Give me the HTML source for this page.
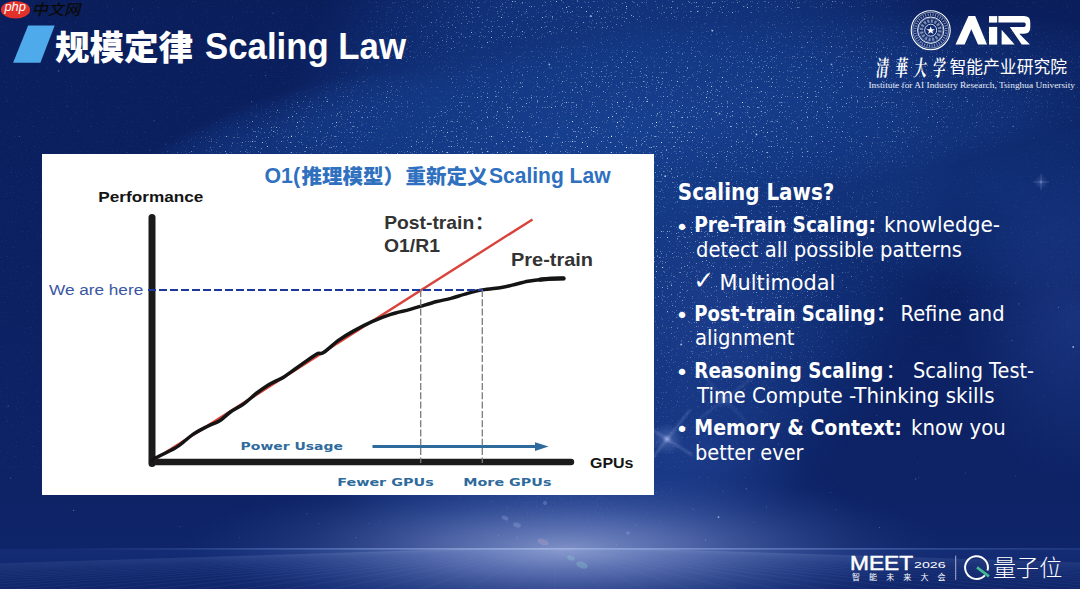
<!DOCTYPE html>
<html><head><meta charset="utf-8">
<style>
*{margin:0;padding:0;box-sizing:border-box}
html,body{width:1080px;height:589px;overflow:hidden;background:#0b1f5d}
body{position:relative}
svg{position:absolute;left:0;top:0;display:block}
.lat{font-family:"Liberation Sans","Noto Sans CJK SC",sans-serif}
.cjk{font-family:"Noto Sans CJK SC","Liberation Sans",sans-serif}
.b{font-weight:bold}
</style></head><body>
<!-- ============ BACKGROUND ============ -->
<svg width="1080" height="589" viewBox="0 0 1080 589">
 <defs>
  <linearGradient id="gBase" x1="0" y1="0" x2="0" y2="1">
   <stop offset="0" stop-color="#0a1e5c"/>
   <stop offset="0.5" stop-color="#0b2162"/>
   <stop offset="0.85" stop-color="#0d2366"/>
   <stop offset="1" stop-color="#10276c"/>
  </linearGradient>
  <radialGradient id="gGlow" cx="0.5" cy="0.5" r="0.5">
   <stop offset="0" stop-color="#97a6d6" stop-opacity="0.8"/>
   <stop offset="0.35" stop-color="#7487c4" stop-opacity="0.55"/>
   <stop offset="0.7" stop-color="#4a64aa" stop-opacity="0.25"/>
   <stop offset="1" stop-color="#2a4898" stop-opacity="0"/>
  </radialGradient>
  <radialGradient id="gFloorC" cx="0.5" cy="0.5" r="0.5">
   <stop offset="0" stop-color="#5e78bb" stop-opacity="0.9"/>
   <stop offset="0.35" stop-color="#36529e" stop-opacity="0.6"/>
   <stop offset="1" stop-color="#1e3a86" stop-opacity="0"/>
  </radialGradient>
  <radialGradient id="gBand" cx="0.5" cy="0.5" r="0.5">
   <stop offset="0" stop-color="#184596" stop-opacity="0.72"/>
   <stop offset="0.55" stop-color="#163f8e" stop-opacity="0.6"/>
   <stop offset="0.8" stop-color="#163f8e" stop-opacity="0.35"/>
   <stop offset="1" stop-color="#163f8e" stop-opacity="0"/>
  </radialGradient>
  <radialGradient id="gSoft" cx="0.5" cy="0.5" r="0.5">
   <stop offset="0" stop-color="#2a4aa0" stop-opacity="0.6"/>
   <stop offset="1" stop-color="#2a4aa0" stop-opacity="0"/>
  </radialGradient>
  <radialGradient id="gFlare" cx="0.5" cy="0.5" r="0.5">
   <stop offset="0" stop-color="#c8d6ff" stop-opacity="0.7"/>
   <stop offset="0.3" stop-color="#8ea6e8" stop-opacity="0.25"/>
   <stop offset="1" stop-color="#8ea6e8" stop-opacity="0"/>
  </radialGradient>
  <linearGradient id="gHor" x1="0" y1="0" x2="1" y2="0">
   <stop offset="0.05" stop-color="#5a7cc8" stop-opacity="0"/>
   <stop offset="0.25" stop-color="#6f8fd6" stop-opacity="0.4"/>
   <stop offset="0.5" stop-color="#a9bde8" stop-opacity="0.75"/>
   <stop offset="0.8" stop-color="#6f8fd6" stop-opacity="0.45"/>
   <stop offset="1" stop-color="#5a7cc8" stop-opacity="0.2"/>
  </linearGradient>
  <linearGradient id="gFloor" x1="0" y1="0" x2="0" y2="1">
   <stop offset="0" stop-color="#142c74"/>
   <stop offset="1" stop-color="#10266b"/>
  </linearGradient>
 </defs>
 <rect width="1080" height="589" fill="url(#gBase)"/>
 <ellipse cx="610" cy="190" rx="420" ry="340" fill="url(#gBand)" transform="rotate(116 610 190)"/>
 <ellipse cx="640" cy="125" rx="520" ry="95" fill="url(#gBand)" opacity="0.85" transform="rotate(-7 640 125)"/>
 <ellipse cx="1000" cy="185" rx="190" ry="110" fill="url(#gBand)" opacity="0.55"/>
 <ellipse cx="290" cy="135" rx="170" ry="45" fill="url(#gBand)" opacity="0.5" transform="rotate(-18 290 135)"/>
 <ellipse cx="720" cy="330" rx="120" ry="150" fill="url(#gSoft)" opacity="0.6"/>
 <ellipse cx="1070" cy="320" rx="110" ry="160" fill="url(#gSoft)" opacity="0.7"/>
 <ellipse cx="700" cy="450" rx="110" ry="70" fill="url(#gSoft)" opacity="0.5"/>
 <ellipse cx="590" cy="530" rx="270" ry="120" fill="url(#gSoft)" opacity="0.9"/>
 <rect x="0" y="549" width="1080" height="40" fill="url(#gFloor)"/>
 <clipPath id="cFloor"><rect x="0" y="549" width="1080" height="40"/></clipPath>
 <ellipse cx="560" cy="549" rx="360" ry="60" fill="url(#gFloorC)" clip-path="url(#cFloor)"/>
 <rect x="0" y="470" width="1080" height="79" fill="none"/>
 <ellipse cx="565" cy="549" rx="380" ry="80" fill="url(#gGlow)"/>
 <g stroke="#8fa6dc" stroke-opacity="0.1" stroke-width="0.8">
<line x1="465.0" y1="549" x2="-795.0" y2="589"/>
<line x1="468.0" y1="549" x2="-750.0" y2="589"/>
<line x1="471.0" y1="549" x2="-705.0" y2="589"/>
<line x1="474.0" y1="549" x2="-660.0" y2="589"/>
<line x1="477.0" y1="549" x2="-615.0" y2="589"/>
<line x1="480.0" y1="549" x2="-570.0" y2="589"/>
<line x1="483.0" y1="549" x2="-525.0" y2="589"/>
<line x1="486.0" y1="549" x2="-480.0" y2="589"/>
<line x1="489.0" y1="549" x2="-435.0" y2="589"/>
<line x1="492.0" y1="549" x2="-390.0" y2="589"/>
<line x1="495.0" y1="549" x2="-345.0" y2="589"/>
<line x1="498.0" y1="549" x2="-300.0" y2="589"/>
<line x1="501.0" y1="549" x2="-255.0" y2="589"/>
<line x1="504.0" y1="549" x2="-210.0" y2="589"/>
<line x1="507.0" y1="549" x2="-165.0" y2="589"/>
<line x1="510.0" y1="549" x2="-120.0" y2="589"/>
<line x1="513.0" y1="549" x2="-75.0" y2="589"/>
<line x1="516.0" y1="549" x2="-30.0" y2="589"/>
<line x1="519.0" y1="549" x2="15.0" y2="589"/>
<line x1="522.0" y1="549" x2="60.0" y2="589"/>
<line x1="525.0" y1="549" x2="105.0" y2="589"/>
<line x1="528.0" y1="549" x2="150.0" y2="589"/>
<line x1="531.0" y1="549" x2="195.0" y2="589"/>
<line x1="534.0" y1="549" x2="240.0" y2="589"/>
<line x1="537.0" y1="549" x2="285.0" y2="589"/>
<line x1="540.0" y1="549" x2="330.0" y2="589"/>
<line x1="543.0" y1="549" x2="375.0" y2="589"/>
<line x1="546.0" y1="549" x2="420.0" y2="589"/>
<line x1="549.0" y1="549" x2="465.0" y2="589"/>
<line x1="552.0" y1="549" x2="510.0" y2="589"/>
<line x1="555.0" y1="549" x2="555.0" y2="589"/>
<line x1="558.0" y1="549" x2="600.0" y2="589"/>
<line x1="561.0" y1="549" x2="645.0" y2="589"/>
<line x1="564.0" y1="549" x2="690.0" y2="589"/>
<line x1="567.0" y1="549" x2="735.0" y2="589"/>
<line x1="570.0" y1="549" x2="780.0" y2="589"/>
<line x1="573.0" y1="549" x2="825.0" y2="589"/>
<line x1="576.0" y1="549" x2="870.0" y2="589"/>
<line x1="579.0" y1="549" x2="915.0" y2="589"/>
<line x1="582.0" y1="549" x2="960.0" y2="589"/>
<line x1="585.0" y1="549" x2="1005.0" y2="589"/>
<line x1="588.0" y1="549" x2="1050.0" y2="589"/>
<line x1="591.0" y1="549" x2="1095.0" y2="589"/>
<line x1="594.0" y1="549" x2="1140.0" y2="589"/>
<line x1="597.0" y1="549" x2="1185.0" y2="589"/>
<line x1="600.0" y1="549" x2="1230.0" y2="589"/>
<line x1="603.0" y1="549" x2="1275.0" y2="589"/>
<line x1="606.0" y1="549" x2="1320.0" y2="589"/>
<line x1="609.0" y1="549" x2="1365.0" y2="589"/>
<line x1="612.0" y1="549" x2="1410.0" y2="589"/>
<line x1="615.0" y1="549" x2="1455.0" y2="589"/>
<line x1="618.0" y1="549" x2="1500.0" y2="589"/>
<line x1="621.0" y1="549" x2="1545.0" y2="589"/>
<line x1="624.0" y1="549" x2="1590.0" y2="589"/>
<line x1="627.0" y1="549" x2="1635.0" y2="589"/>
<line x1="630.0" y1="549" x2="1680.0" y2="589"/>
<line x1="633.0" y1="549" x2="1725.0" y2="589"/>
<line x1="636.0" y1="549" x2="1770.0" y2="589"/>
<line x1="639.0" y1="549" x2="1815.0" y2="589"/>
<line x1="642.0" y1="549" x2="1860.0" y2="589"/>
<line x1="645.0" y1="549" x2="1905.0" y2="589"/>
 </g>
 <rect x="0" y="548" width="1080" height="1.6" fill="url(#gHor)"/>
 <defs>
  <filter id="fStars" x="0" y="0" width="1080" height="589" filterUnits="userSpaceOnUse">
   <feTurbulence type="fractalNoise" baseFrequency="0.8" numOctaves="1" seed="5" result="n"/>
   <feColorMatrix in="n" type="matrix" values="0 0 0 0 0.84  0 0 0 0 0.9  0 0 0 0 1  7 0 0 0 -4.6" result="s"/>
   <feGaussianBlur in="s" stdDeviation="0.4"/>
  </filter>
  <radialGradient id="gMask" cx="0.5" cy="0.5" r="0.5">
   <stop offset="0" stop-color="#fff"/>
   <stop offset="0.6" stop-color="#aaa"/>
   <stop offset="1" stop-color="#000"/>
  </radialGradient>
  <linearGradient id="gMaskFade" x1="0" y1="0" x2="0" y2="1">
   <stop offset="0" stop-color="#000" stop-opacity="0"/>
   <stop offset="0.6" stop-color="#000" stop-opacity="0.6"/>
   <stop offset="1" stop-color="#000" stop-opacity="0.75"/>
  </linearGradient>
  <filter id="fSoft" x="-20%" y="-20%" width="140%" height="140%"><feGaussianBlur stdDeviation="0.8"/></filter>
  <mask id="mBand" maskUnits="userSpaceOnUse" x="0" y="0" width="1080" height="589">
   <rect width="1080" height="589" fill="#161616"/>
   <ellipse cx="610" cy="190" rx="420" ry="330" fill="url(#gMask)" transform="rotate(116 610 190)"/>
   <ellipse cx="640" cy="125" rx="520" ry="100" fill="url(#gMask)" opacity="0.8" transform="rotate(-7 640 125)"/>
   <rect x="0" y="470" width="1080" height="119" fill="#000" opacity="0.75"/>
   <ellipse cx="290" cy="135" rx="170" ry="45" fill="url(#gMask)" opacity="0.8" transform="rotate(-18 290 135)"/>
   <rect x="654" y="280" width="426" height="200" fill="url(#gMaskFade)"/>
  </mask>
 </defs>
 <rect width="1080" height="589" filter="url(#fStars)" mask="url(#mBand)"/>
 <g>
<circle cx="40.5" cy="236.3" r="0.35" fill="#d4e2ff" fill-opacity="0.33"/>
<circle cx="629.6" cy="33.7" r="0.35" fill="#d4e2ff" fill-opacity="0.49"/>
<circle cx="927.1" cy="157.8" r="0.35" fill="#d4e2ff" fill-opacity="0.34"/>
<circle cx="736.6" cy="56.2" r="0.4" fill="#d4e2ff" fill-opacity="0.26"/>
<circle cx="734.8" cy="233.0" r="0.55" fill="#d4e2ff" fill-opacity="0.47"/>
<circle cx="860.6" cy="37.5" r="0.45" fill="#d4e2ff" fill-opacity="0.30"/>
<circle cx="722.1" cy="12.3" r="0.4" fill="#d4e2ff" fill-opacity="0.35"/>
<circle cx="536.2" cy="90.7" r="0.45" fill="#d4e2ff" fill-opacity="0.46"/>
<circle cx="636.3" cy="143.2" r="0.5" fill="#d4e2ff" fill-opacity="0.32"/>
<circle cx="512.1" cy="62.9" r="0.5" fill="#d4e2ff" fill-opacity="0.30"/>
<circle cx="559.9" cy="495.0" r="0.4" fill="#d4e2ff" fill-opacity="0.32"/>
<circle cx="705.2" cy="435.8" r="0.6" fill="#d4e2ff" fill-opacity="0.17"/>
<circle cx="708.3" cy="333.3" r="0.5" fill="#d4e2ff" fill-opacity="0.37"/>
<circle cx="592.6" cy="71.4" r="0.6" fill="#d4e2ff" fill-opacity="0.37"/>
<circle cx="892.2" cy="115.0" r="0.45" fill="#d4e2ff" fill-opacity="0.31"/>
<circle cx="948.4" cy="71.3" r="0.55" fill="#d4e2ff" fill-opacity="0.13"/>
<circle cx="783.2" cy="303.3" r="0.55" fill="#d4e2ff" fill-opacity="0.32"/>
<circle cx="838.6" cy="481.4" r="0.4" fill="#d4e2ff" fill-opacity="0.23"/>
<circle cx="661.5" cy="275.5" r="0.6" fill="#d4e2ff" fill-opacity="0.23"/>
<circle cx="872.0" cy="276.7" r="0.55" fill="#d4e2ff" fill-opacity="0.45"/>
<circle cx="78.3" cy="131.1" r="0.6" fill="#d4e2ff" fill-opacity="0.24"/>
<circle cx="395.5" cy="137.9" r="0.5" fill="#d4e2ff" fill-opacity="0.20"/>
<circle cx="366.2" cy="106.7" r="0.6" fill="#d4e2ff" fill-opacity="0.26"/>
<circle cx="319.1" cy="523.6" r="0.4" fill="#d4e2ff" fill-opacity="0.49"/>
<circle cx="756.5" cy="48.8" r="0.6" fill="#d4e2ff" fill-opacity="0.19"/>
<circle cx="290.4" cy="9.2" r="0.45" fill="#d4e2ff" fill-opacity="0.15"/>
<circle cx="597.3" cy="505.0" r="0.4" fill="#d4e2ff" fill-opacity="0.14"/>
<circle cx="573.6" cy="112.2" r="0.6" fill="#d4e2ff" fill-opacity="0.19"/>
<circle cx="19.6" cy="136.5" r="0.6" fill="#d4e2ff" fill-opacity="0.31"/>
<circle cx="555.4" cy="133.9" r="0.6" fill="#d4e2ff" fill-opacity="0.43"/>
<circle cx="58.7" cy="70.8" r="0.6" fill="#d4e2ff" fill-opacity="0.45"/>
<circle cx="1063.7" cy="176.3" r="0.45" fill="#d4e2ff" fill-opacity="0.20"/>
<circle cx="362.2" cy="45.7" r="0.6" fill="#d4e2ff" fill-opacity="0.20"/>
<circle cx="431.5" cy="22.7" r="0.45" fill="#d4e2ff" fill-opacity="0.36"/>
<circle cx="772.2" cy="279.6" r="0.6" fill="#d4e2ff" fill-opacity="0.43"/>
<circle cx="737.5" cy="377.9" r="0.35" fill="#d4e2ff" fill-opacity="0.14"/>
<circle cx="748.3" cy="338.5" r="0.5" fill="#d4e2ff" fill-opacity="0.14"/>
<circle cx="628.0" cy="77.2" r="0.45" fill="#d4e2ff" fill-opacity="0.17"/>
<circle cx="525.0" cy="13.5" r="0.5" fill="#d4e2ff" fill-opacity="0.38"/>
<circle cx="785.4" cy="226.8" r="0.9" fill="#d4e2ff" fill-opacity="0.76"/>
<circle cx="462.3" cy="150.0" r="0.35" fill="#d4e2ff" fill-opacity="0.14"/>
<circle cx="945.8" cy="302.0" r="0.35" fill="#d4e2ff" fill-opacity="0.14"/>
<circle cx="696.0" cy="156.0" r="0.55" fill="#d4e2ff" fill-opacity="0.17"/>
<circle cx="708.5" cy="164.0" r="0.5" fill="#d4e2ff" fill-opacity="0.17"/>
<circle cx="874.1" cy="110.2" r="0.5" fill="#d4e2ff" fill-opacity="0.27"/>
<circle cx="879.5" cy="527.6" r="0.5" fill="#d4e2ff" fill-opacity="0.39"/>
<circle cx="268.3" cy="59.4" r="0.55" fill="#d4e2ff" fill-opacity="0.49"/>
<circle cx="676.6" cy="287.9" r="0.35" fill="#d4e2ff" fill-opacity="0.16"/>
<circle cx="590.8" cy="16.0" r="0.9" fill="#d4e2ff" fill-opacity="0.67"/>
<circle cx="728.4" cy="228.9" r="0.6" fill="#d4e2ff" fill-opacity="0.28"/>
<circle cx="775.8" cy="197.5" r="0.35" fill="#d4e2ff" fill-opacity="0.42"/>
<circle cx="718.5" cy="517.1" r="0.9" fill="#d4e2ff" fill-opacity="0.71"/>
<circle cx="769.0" cy="171.2" r="0.35" fill="#d4e2ff" fill-opacity="0.47"/>
<circle cx="379.6" cy="520.8" r="0.4" fill="#d4e2ff" fill-opacity="0.26"/>
<circle cx="67.0" cy="106.2" r="0.55" fill="#d4e2ff" fill-opacity="0.25"/>
<circle cx="774.0" cy="172.5" r="0.35" fill="#d4e2ff" fill-opacity="0.39"/>
<circle cx="870.1" cy="515.8" r="0.4" fill="#d4e2ff" fill-opacity="0.16"/>
<circle cx="747.5" cy="82.5" r="0.45" fill="#d4e2ff" fill-opacity="0.30"/>
<circle cx="423.0" cy="87.2" r="0.6" fill="#d4e2ff" fill-opacity="0.13"/>
<circle cx="1066.8" cy="144.4" r="0.35" fill="#d4e2ff" fill-opacity="0.28"/>
<circle cx="1049.9" cy="94.4" r="0.5" fill="#d4e2ff" fill-opacity="0.36"/>
<circle cx="705.6" cy="540.1" r="0.5" fill="#d4e2ff" fill-opacity="0.46"/>
<circle cx="947.0" cy="126.9" r="0.55" fill="#d4e2ff" fill-opacity="0.49"/>
<circle cx="669.5" cy="118.6" r="0.4" fill="#d4e2ff" fill-opacity="0.14"/>
<circle cx="859.5" cy="361.9" r="0.55" fill="#d4e2ff" fill-opacity="0.15"/>
<circle cx="751.0" cy="223.3" r="0.45" fill="#d4e2ff" fill-opacity="0.28"/>
<circle cx="696.0" cy="212.9" r="0.35" fill="#d4e2ff" fill-opacity="0.28"/>
<circle cx="375.8" cy="88.2" r="0.35" fill="#d4e2ff" fill-opacity="0.16"/>
<circle cx="670.0" cy="449.4" r="0.4" fill="#d4e2ff" fill-opacity="0.36"/>
<circle cx="840.3" cy="353.7" r="0.4" fill="#d4e2ff" fill-opacity="0.28"/>
<circle cx="842.4" cy="249.8" r="0.5" fill="#d4e2ff" fill-opacity="0.27"/>
<circle cx="748.0" cy="59.7" r="0.5" fill="#d4e2ff" fill-opacity="0.23"/>
<circle cx="659.3" cy="137.5" r="0.55" fill="#d4e2ff" fill-opacity="0.22"/>
<circle cx="687.2" cy="196.1" r="0.55" fill="#d4e2ff" fill-opacity="0.32"/>
<circle cx="806.9" cy="120.8" r="0.6" fill="#d4e2ff" fill-opacity="0.28"/>
<circle cx="967.2" cy="72.0" r="0.6" fill="#d4e2ff" fill-opacity="0.14"/>
<circle cx="894.7" cy="86.4" r="0.4" fill="#d4e2ff" fill-opacity="0.39"/>
<circle cx="532.3" cy="90.0" r="0.35" fill="#d4e2ff" fill-opacity="0.32"/>
<circle cx="878.5" cy="95.2" r="0.45" fill="#d4e2ff" fill-opacity="0.36"/>
<circle cx="782.3" cy="260.5" r="0.5" fill="#d4e2ff" fill-opacity="0.44"/>
<circle cx="488.7" cy="123.1" r="0.4" fill="#d4e2ff" fill-opacity="0.36"/>
<circle cx="909.1" cy="110.5" r="0.45" fill="#d4e2ff" fill-opacity="0.19"/>
<circle cx="573.1" cy="3.5" r="0.6" fill="#d4e2ff" fill-opacity="0.21"/>
<circle cx="610.4" cy="93.5" r="0.35" fill="#d4e2ff" fill-opacity="0.16"/>
<circle cx="372.5" cy="77.3" r="0.35" fill="#d4e2ff" fill-opacity="0.17"/>
<circle cx="46.1" cy="37.0" r="0.55" fill="#d4e2ff" fill-opacity="0.41"/>
<circle cx="414.6" cy="134.4" r="0.35" fill="#d4e2ff" fill-opacity="0.13"/>
<circle cx="682.1" cy="156.6" r="0.35" fill="#d4e2ff" fill-opacity="0.42"/>
<circle cx="805.3" cy="430.0" r="0.55" fill="#d4e2ff" fill-opacity="0.41"/>
<circle cx="761.0" cy="293.1" r="0.35" fill="#d4e2ff" fill-opacity="0.34"/>
<circle cx="1013.4" cy="126.2" r="0.6" fill="#d4e2ff" fill-opacity="0.41"/>
<circle cx="1070.4" cy="305.9" r="0.45" fill="#d4e2ff" fill-opacity="0.26"/>
<circle cx="813.2" cy="352.2" r="0.45" fill="#d4e2ff" fill-opacity="0.32"/>
<circle cx="744.2" cy="140.2" r="0.45" fill="#d4e2ff" fill-opacity="0.30"/>
<circle cx="759.4" cy="459.8" r="0.4" fill="#d4e2ff" fill-opacity="0.49"/>
<circle cx="710.5" cy="106.5" r="0.4" fill="#d4e2ff" fill-opacity="0.42"/>
<circle cx="469.7" cy="106.9" r="0.35" fill="#d4e2ff" fill-opacity="0.23"/>
<circle cx="797.3" cy="3.0" r="0.5" fill="#d4e2ff" fill-opacity="0.39"/>
<circle cx="630.5" cy="124.6" r="0.35" fill="#d4e2ff" fill-opacity="0.29"/>
<circle cx="678.5" cy="53.3" r="0.5" fill="#d4e2ff" fill-opacity="0.39"/>
<circle cx="840.4" cy="211.8" r="0.35" fill="#d4e2ff" fill-opacity="0.13"/>
<circle cx="1015.8" cy="283.0" r="0.55" fill="#d4e2ff" fill-opacity="0.29"/>
<circle cx="688.6" cy="137.6" r="0.35" fill="#d4e2ff" fill-opacity="0.13"/>
<circle cx="380.3" cy="144.5" r="0.6" fill="#d4e2ff" fill-opacity="0.27"/>
<circle cx="778.4" cy="444.0" r="0.6" fill="#d4e2ff" fill-opacity="0.36"/>
<circle cx="881.5" cy="255.1" r="0.55" fill="#d4e2ff" fill-opacity="0.37"/>
<circle cx="709.9" cy="114.3" r="0.45" fill="#d4e2ff" fill-opacity="0.22"/>
<circle cx="599.5" cy="144.1" r="0.4" fill="#d4e2ff" fill-opacity="0.30"/>
<circle cx="756.5" cy="134.4" r="0.9" fill="#d4e2ff" fill-opacity="0.79"/>
<circle cx="718.5" cy="458.1" r="0.5" fill="#d4e2ff" fill-opacity="0.50"/>
<circle cx="698.2" cy="11.2" r="0.6" fill="#d4e2ff" fill-opacity="0.47"/>
<circle cx="675.3" cy="184.5" r="0.45" fill="#d4e2ff" fill-opacity="0.25"/>
<circle cx="598.5" cy="497.2" r="0.45" fill="#d4e2ff" fill-opacity="0.28"/>
<circle cx="685.6" cy="427.4" r="0.6" fill="#d4e2ff" fill-opacity="0.33"/>
<circle cx="744.3" cy="477.6" r="0.35" fill="#d4e2ff" fill-opacity="0.37"/>
<circle cx="823.7" cy="55.2" r="0.35" fill="#d4e2ff" fill-opacity="0.28"/>
<circle cx="766.9" cy="470.0" r="0.35" fill="#d4e2ff" fill-opacity="0.24"/>
<circle cx="693.1" cy="509.0" r="0.55" fill="#d4e2ff" fill-opacity="0.32"/>
<circle cx="592.7" cy="45.2" r="0.4" fill="#d4e2ff" fill-opacity="0.36"/>
<circle cx="927.1" cy="118.9" r="0.5" fill="#d4e2ff" fill-opacity="0.13"/>
<circle cx="882.7" cy="43.4" r="0.6" fill="#d4e2ff" fill-opacity="0.35"/>
<circle cx="179.8" cy="526.7" r="0.6" fill="#d4e2ff" fill-opacity="0.18"/>
<circle cx="489.0" cy="148.2" r="0.45" fill="#d4e2ff" fill-opacity="0.23"/>
<circle cx="872.1" cy="154.4" r="0.45" fill="#d4e2ff" fill-opacity="0.22"/>
<circle cx="562.7" cy="141.5" r="0.45" fill="#d4e2ff" fill-opacity="0.30"/>
<circle cx="757.1" cy="197.7" r="0.5" fill="#d4e2ff" fill-opacity="0.42"/>
<circle cx="995.9" cy="385.0" r="0.45" fill="#d4e2ff" fill-opacity="0.33"/>
<circle cx="1071.1" cy="120.8" r="0.45" fill="#d4e2ff" fill-opacity="0.48"/>
<circle cx="704.7" cy="256.5" r="0.5" fill="#d4e2ff" fill-opacity="0.17"/>
<circle cx="678.6" cy="246.5" r="0.4" fill="#d4e2ff" fill-opacity="0.30"/>
<circle cx="154.2" cy="120.8" r="0.6" fill="#d4e2ff" fill-opacity="0.29"/>
<circle cx="474.1" cy="81.4" r="0.4" fill="#d4e2ff" fill-opacity="0.18"/>
<circle cx="906.7" cy="182.3" r="0.5" fill="#d4e2ff" fill-opacity="0.16"/>
<circle cx="521.0" cy="83.6" r="0.6" fill="#d4e2ff" fill-opacity="0.46"/>
<circle cx="309.1" cy="140.5" r="0.45" fill="#d4e2ff" fill-opacity="0.28"/>
<circle cx="563.4" cy="125.6" r="0.55" fill="#d4e2ff" fill-opacity="0.15"/>
<circle cx="657.2" cy="270.0" r="0.4" fill="#d4e2ff" fill-opacity="0.17"/>
<circle cx="678.7" cy="104.7" r="0.35" fill="#d4e2ff" fill-opacity="0.14"/>
<circle cx="933.7" cy="268.7" r="0.5" fill="#d4e2ff" fill-opacity="0.17"/>
<circle cx="145.1" cy="132.7" r="0.55" fill="#d4e2ff" fill-opacity="0.19"/>
<circle cx="774.5" cy="24.6" r="0.5" fill="#d4e2ff" fill-opacity="0.34"/>
<circle cx="584.9" cy="124.0" r="0.6" fill="#d4e2ff" fill-opacity="0.34"/>
<circle cx="545.2" cy="11.4" r="0.5" fill="#d4e2ff" fill-opacity="0.42"/>
<circle cx="699.3" cy="65.6" r="0.55" fill="#d4e2ff" fill-opacity="0.46"/>
<circle cx="794.8" cy="403.5" r="0.5" fill="#d4e2ff" fill-opacity="0.35"/>
<circle cx="702.4" cy="109.6" r="0.5" fill="#d4e2ff" fill-opacity="0.46"/>
<circle cx="233.4" cy="31.0" r="0.55" fill="#d4e2ff" fill-opacity="0.15"/>
<circle cx="475.2" cy="33.8" r="0.5" fill="#d4e2ff" fill-opacity="0.25"/>
<circle cx="681.1" cy="344.5" r="0.9" fill="#d4e2ff" fill-opacity="0.77"/>
<circle cx="460.6" cy="496.3" r="0.35" fill="#d4e2ff" fill-opacity="0.22"/>
<circle cx="785.3" cy="234.4" r="0.35" fill="#d4e2ff" fill-opacity="0.35"/>
<circle cx="959.2" cy="229.4" r="0.45" fill="#d4e2ff" fill-opacity="0.43"/>
<circle cx="964.6" cy="224.7" r="0.55" fill="#d4e2ff" fill-opacity="0.35"/>
<circle cx="1073.2" cy="346.9" r="0.9" fill="#d4e2ff" fill-opacity="0.75"/>
<circle cx="597.2" cy="499.8" r="0.35" fill="#d4e2ff" fill-opacity="0.34"/>
<circle cx="597.5" cy="145.0" r="0.55" fill="#d4e2ff" fill-opacity="0.32"/>
<circle cx="550.2" cy="15.8" r="0.55" fill="#d4e2ff" fill-opacity="0.31"/>
<circle cx="702.1" cy="373.1" r="0.4" fill="#d4e2ff" fill-opacity="0.39"/>
<circle cx="183.0" cy="145.3" r="0.55" fill="#d4e2ff" fill-opacity="0.14"/>
<circle cx="673.9" cy="10.7" r="0.5" fill="#d4e2ff" fill-opacity="0.34"/>
<circle cx="775.9" cy="120.7" r="0.6" fill="#d4e2ff" fill-opacity="0.30"/>
<circle cx="606.5" cy="62.6" r="0.5" fill="#d4e2ff" fill-opacity="0.25"/>
<circle cx="470.4" cy="152.1" r="0.4" fill="#d4e2ff" fill-opacity="0.21"/>
<circle cx="858.5" cy="130.9" r="0.4" fill="#d4e2ff" fill-opacity="0.39"/>
<circle cx="545.2" cy="123.9" r="0.4" fill="#d4e2ff" fill-opacity="0.48"/>
<circle cx="551.0" cy="68.4" r="0.6" fill="#d4e2ff" fill-opacity="0.31"/>
<circle cx="421.1" cy="46.9" r="0.4" fill="#d4e2ff" fill-opacity="0.24"/>
<circle cx="930.2" cy="72.0" r="0.35" fill="#d4e2ff" fill-opacity="0.26"/>
<circle cx="746.2" cy="488.8" r="0.6" fill="#d4e2ff" fill-opacity="0.39"/>
<circle cx="792.8" cy="388.4" r="0.35" fill="#d4e2ff" fill-opacity="0.35"/>
<circle cx="1052.1" cy="371.2" r="0.45" fill="#d4e2ff" fill-opacity="0.20"/>
<circle cx="895.0" cy="153.2" r="0.5" fill="#d4e2ff" fill-opacity="0.29"/>
<circle cx="730.7" cy="112.3" r="0.4" fill="#d4e2ff" fill-opacity="0.31"/>
<circle cx="753.9" cy="72.7" r="0.55" fill="#d4e2ff" fill-opacity="0.33"/>
<circle cx="827.5" cy="453.0" r="0.45" fill="#d4e2ff" fill-opacity="0.12"/>
<circle cx="602.1" cy="24.8" r="0.5" fill="#d4e2ff" fill-opacity="0.15"/>
<circle cx="1058.6" cy="307.2" r="0.5" fill="#d4e2ff" fill-opacity="0.48"/>
<circle cx="846.6" cy="175.4" r="0.35" fill="#d4e2ff" fill-opacity="0.36"/>
<circle cx="265.7" cy="75.6" r="0.5" fill="#d4e2ff" fill-opacity="0.44"/>
<circle cx="897.9" cy="130.5" r="0.55" fill="#d4e2ff" fill-opacity="0.43"/>
<circle cx="1079.9" cy="219.8" r="0.4" fill="#d4e2ff" fill-opacity="0.31"/>
<circle cx="627.6" cy="43.7" r="0.4" fill="#d4e2ff" fill-opacity="0.17"/>
<circle cx="517.8" cy="119.0" r="0.35" fill="#d4e2ff" fill-opacity="0.44"/>
<circle cx="849.9" cy="231.9" r="0.6" fill="#d4e2ff" fill-opacity="0.14"/>
<circle cx="961.9" cy="34.2" r="0.4" fill="#d4e2ff" fill-opacity="0.46"/>
<circle cx="669.5" cy="442.1" r="0.6" fill="#d4e2ff" fill-opacity="0.25"/>
<circle cx="746.7" cy="80.1" r="0.55" fill="#d4e2ff" fill-opacity="0.34"/>
<circle cx="428.1" cy="62.3" r="0.4" fill="#d4e2ff" fill-opacity="0.33"/>
<circle cx="931.1" cy="138.2" r="0.55" fill="#d4e2ff" fill-opacity="0.37"/>
<circle cx="668.3" cy="220.4" r="0.35" fill="#d4e2ff" fill-opacity="0.13"/>
<circle cx="735.0" cy="450.0" r="0.45" fill="#d4e2ff" fill-opacity="0.32"/>
<circle cx="881.9" cy="192.6" r="0.45" fill="#d4e2ff" fill-opacity="0.43"/>
<circle cx="905.2" cy="316.8" r="0.35" fill="#d4e2ff" fill-opacity="0.31"/>
<circle cx="822.4" cy="146.4" r="0.35" fill="#d4e2ff" fill-opacity="0.25"/>
<circle cx="864.5" cy="19.3" r="0.6" fill="#d4e2ff" fill-opacity="0.38"/>
<circle cx="659.7" cy="41.4" r="0.4" fill="#d4e2ff" fill-opacity="0.24"/>
<circle cx="674.6" cy="115.2" r="0.6" fill="#d4e2ff" fill-opacity="0.30"/>
<circle cx="685.4" cy="197.8" r="0.4" fill="#d4e2ff" fill-opacity="0.45"/>
<circle cx="735.8" cy="165.7" r="0.6" fill="#d4e2ff" fill-opacity="0.26"/>
<circle cx="772.9" cy="182.3" r="0.6" fill="#d4e2ff" fill-opacity="0.24"/>
<circle cx="595.4" cy="510.9" r="0.4" fill="#d4e2ff" fill-opacity="0.34"/>
<circle cx="760.7" cy="119.0" r="0.4" fill="#d4e2ff" fill-opacity="0.46"/>
<circle cx="542.1" cy="54.3" r="0.35" fill="#d4e2ff" fill-opacity="0.49"/>
<circle cx="945.6" cy="185.9" r="0.4" fill="#d4e2ff" fill-opacity="0.22"/>
<circle cx="16.2" cy="176.0" r="0.45" fill="#d4e2ff" fill-opacity="0.24"/>
<circle cx="700.8" cy="220.9" r="0.45" fill="#d4e2ff" fill-opacity="0.19"/>
<circle cx="1015.5" cy="476.0" r="0.45" fill="#d4e2ff" fill-opacity="0.33"/>
<circle cx="782.1" cy="179.4" r="0.4" fill="#d4e2ff" fill-opacity="0.20"/>
<circle cx="621.0" cy="125.4" r="0.6" fill="#d4e2ff" fill-opacity="0.30"/>
<circle cx="699.1" cy="355.1" r="0.6" fill="#d4e2ff" fill-opacity="0.29"/>
<circle cx="565.2" cy="512.8" r="0.35" fill="#d4e2ff" fill-opacity="0.33"/>
<circle cx="1011.9" cy="340.4" r="0.55" fill="#d4e2ff" fill-opacity="0.31"/>
<circle cx="995.2" cy="88.3" r="0.6" fill="#d4e2ff" fill-opacity="0.21"/>
<circle cx="677.3" cy="122.1" r="0.45" fill="#d4e2ff" fill-opacity="0.39"/>
<circle cx="659.1" cy="521.5" r="0.35" fill="#d4e2ff" fill-opacity="0.46"/>
<circle cx="1074.4" cy="162.2" r="0.35" fill="#d4e2ff" fill-opacity="0.18"/>
<circle cx="811.4" cy="253.1" r="0.5" fill="#d4e2ff" fill-opacity="0.25"/>
<circle cx="744.6" cy="20.6" r="0.4" fill="#d4e2ff" fill-opacity="0.34"/>
<circle cx="1048.2" cy="286.4" r="0.4" fill="#d4e2ff" fill-opacity="0.38"/>
<circle cx="797.3" cy="272.9" r="0.45" fill="#d4e2ff" fill-opacity="0.44"/>
<circle cx="1049.8" cy="122.1" r="0.6" fill="#d4e2ff" fill-opacity="0.19"/>
<circle cx="705.4" cy="296.5" r="0.6" fill="#d4e2ff" fill-opacity="0.28"/>
<circle cx="804.9" cy="146.4" r="0.55" fill="#d4e2ff" fill-opacity="0.28"/>
<circle cx="407.1" cy="131.2" r="0.35" fill="#d4e2ff" fill-opacity="0.15"/>
<circle cx="616.4" cy="544.7" r="0.55" fill="#d4e2ff" fill-opacity="0.26"/>
<circle cx="727.6" cy="83.1" r="0.4" fill="#d4e2ff" fill-opacity="0.36"/>
<circle cx="965.5" cy="472.9" r="0.5" fill="#d4e2ff" fill-opacity="0.26"/>
<circle cx="758.8" cy="204.5" r="0.6" fill="#d4e2ff" fill-opacity="0.43"/>
<circle cx="489.0" cy="48.0" r="0.5" fill="#d4e2ff" fill-opacity="0.38"/>
<circle cx="700.0" cy="441.9" r="0.5" fill="#d4e2ff" fill-opacity="0.44"/>
<circle cx="626.6" cy="34.5" r="0.35" fill="#d4e2ff" fill-opacity="0.15"/>
<circle cx="1074.5" cy="96.0" r="0.5" fill="#d4e2ff" fill-opacity="0.31"/>
<circle cx="831.5" cy="64.4" r="0.9" fill="#d4e2ff" fill-opacity="0.67"/>
<circle cx="889.9" cy="108.9" r="0.35" fill="#d4e2ff" fill-opacity="0.33"/>
<circle cx="561.6" cy="47.2" r="0.6" fill="#d4e2ff" fill-opacity="0.45"/>
<circle cx="277.7" cy="110.1" r="0.55" fill="#d4e2ff" fill-opacity="0.37"/>
<circle cx="708.8" cy="386.9" r="0.45" fill="#d4e2ff" fill-opacity="0.20"/>
<circle cx="600.6" cy="27.9" r="0.55" fill="#d4e2ff" fill-opacity="0.15"/>
<circle cx="889.3" cy="19.2" r="0.5" fill="#d4e2ff" fill-opacity="0.23"/>
<circle cx="729.0" cy="160.7" r="0.4" fill="#d4e2ff" fill-opacity="0.18"/>
<circle cx="223.5" cy="55.0" r="0.35" fill="#d4e2ff" fill-opacity="0.48"/>
<circle cx="740.8" cy="84.4" r="0.6" fill="#d4e2ff" fill-opacity="0.17"/>
<circle cx="776.9" cy="168.7" r="0.55" fill="#d4e2ff" fill-opacity="0.44"/>
<circle cx="536.3" cy="506.8" r="0.5" fill="#d4e2ff" fill-opacity="0.23"/>
<circle cx="626.5" cy="54.9" r="0.4" fill="#d4e2ff" fill-opacity="0.48"/>
<circle cx="485.6" cy="134.8" r="0.4" fill="#d4e2ff" fill-opacity="0.16"/>
<circle cx="806.7" cy="61.6" r="0.5" fill="#d4e2ff" fill-opacity="0.30"/>
<circle cx="554.4" cy="53.0" r="0.4" fill="#d4e2ff" fill-opacity="0.28"/>
<circle cx="903.7" cy="165.3" r="0.35" fill="#d4e2ff" fill-opacity="0.45"/>
<circle cx="165.9" cy="144.0" r="0.5" fill="#d4e2ff" fill-opacity="0.36"/>
<circle cx="615.4" cy="65.8" r="0.4" fill="#d4e2ff" fill-opacity="0.21"/>
<circle cx="846.7" cy="387.4" r="0.4" fill="#d4e2ff" fill-opacity="0.15"/>
<circle cx="639.2" cy="99.6" r="0.5" fill="#d4e2ff" fill-opacity="0.42"/>
<circle cx="740.9" cy="386.2" r="0.35" fill="#d4e2ff" fill-opacity="0.42"/>
<circle cx="913.4" cy="428.7" r="0.6" fill="#d4e2ff" fill-opacity="0.49"/>
<circle cx="535.9" cy="141.3" r="0.45" fill="#d4e2ff" fill-opacity="0.46"/>
<circle cx="891.8" cy="221.4" r="0.6" fill="#d4e2ff" fill-opacity="0.38"/>
<circle cx="503.2" cy="17.8" r="0.45" fill="#d4e2ff" fill-opacity="0.19"/>
<circle cx="719.4" cy="73.6" r="0.45" fill="#d4e2ff" fill-opacity="0.37"/>
<circle cx="682.5" cy="204.8" r="0.6" fill="#d4e2ff" fill-opacity="0.14"/>
<circle cx="535.4" cy="26.3" r="0.4" fill="#d4e2ff" fill-opacity="0.20"/>
<circle cx="856.7" cy="257.5" r="0.55" fill="#d4e2ff" fill-opacity="0.29"/>
<circle cx="688.1" cy="424.4" r="0.4" fill="#d4e2ff" fill-opacity="0.23"/>
<circle cx="1004.4" cy="90.4" r="0.6" fill="#d4e2ff" fill-opacity="0.36"/>
<circle cx="801.8" cy="186.3" r="0.45" fill="#d4e2ff" fill-opacity="0.25"/>
<circle cx="723.0" cy="491.3" r="0.45" fill="#d4e2ff" fill-opacity="0.38"/>
<circle cx="699.3" cy="477.2" r="0.45" fill="#d4e2ff" fill-opacity="0.39"/>
<circle cx="656.3" cy="492.6" r="0.45" fill="#d4e2ff" fill-opacity="0.38"/>
<circle cx="149.9" cy="149.9" r="0.5" fill="#d4e2ff" fill-opacity="0.34"/>
<circle cx="1030.9" cy="149.2" r="0.35" fill="#d4e2ff" fill-opacity="0.27"/>
<circle cx="635.9" cy="123.3" r="0.35" fill="#d4e2ff" fill-opacity="0.43"/>
<circle cx="355.8" cy="537.5" r="0.5" fill="#d4e2ff" fill-opacity="0.34"/>
<circle cx="802.5" cy="421.5" r="0.6" fill="#d4e2ff" fill-opacity="0.44"/>
<circle cx="662.2" cy="8.6" r="0.5" fill="#d4e2ff" fill-opacity="0.12"/>
<circle cx="779.7" cy="343.5" r="0.45" fill="#d4e2ff" fill-opacity="0.36"/>
<circle cx="746.6" cy="229.5" r="0.6" fill="#d4e2ff" fill-opacity="0.29"/>
<circle cx="548.6" cy="114.1" r="0.35" fill="#d4e2ff" fill-opacity="0.48"/>
<circle cx="471.6" cy="75.4" r="0.6" fill="#d4e2ff" fill-opacity="0.34"/>
<circle cx="576.9" cy="38.7" r="0.55" fill="#d4e2ff" fill-opacity="0.33"/>
<circle cx="830.4" cy="492.7" r="0.4" fill="#d4e2ff" fill-opacity="0.46"/>
<circle cx="763.5" cy="239.6" r="0.6" fill="#d4e2ff" fill-opacity="0.39"/>
<circle cx="654.4" cy="64.5" r="0.5" fill="#d4e2ff" fill-opacity="0.14"/>
<circle cx="800.9" cy="20.9" r="0.4" fill="#d4e2ff" fill-opacity="0.43"/>
<circle cx="284.0" cy="83.6" r="0.35" fill="#d4e2ff" fill-opacity="0.41"/>
<circle cx="665.2" cy="176.2" r="0.9" fill="#d4e2ff" fill-opacity="0.80"/>
<circle cx="8.2" cy="406.0" r="0.55" fill="#d4e2ff" fill-opacity="0.43"/>
<circle cx="917.7" cy="462.3" r="0.45" fill="#d4e2ff" fill-opacity="0.22"/>
<circle cx="207.4" cy="43.0" r="0.6" fill="#d4e2ff" fill-opacity="0.38"/>
<circle cx="763.0" cy="137.7" r="0.45" fill="#d4e2ff" fill-opacity="0.13"/>
<circle cx="708.4" cy="258.0" r="0.45" fill="#d4e2ff" fill-opacity="0.22"/>
<circle cx="445.4" cy="11.4" r="0.45" fill="#d4e2ff" fill-opacity="0.47"/>
<circle cx="858.2" cy="289.9" r="0.45" fill="#d4e2ff" fill-opacity="0.28"/>
<circle cx="682.0" cy="353.0" r="0.35" fill="#d4e2ff" fill-opacity="0.39"/>
<circle cx="369.1" cy="523.5" r="0.4" fill="#d4e2ff" fill-opacity="0.36"/>
<circle cx="708.4" cy="403.6" r="0.35" fill="#d4e2ff" fill-opacity="0.35"/>
<circle cx="328.2" cy="34.8" r="0.35" fill="#d4e2ff" fill-opacity="0.15"/>
<circle cx="847.3" cy="58.1" r="0.45" fill="#d4e2ff" fill-opacity="0.37"/>
<circle cx="195.1" cy="78.3" r="0.35" fill="#d4e2ff" fill-opacity="0.27"/>
<circle cx="615.2" cy="121.7" r="0.35" fill="#d4e2ff" fill-opacity="0.22"/>
<circle cx="796.2" cy="201.9" r="0.6" fill="#d4e2ff" fill-opacity="0.16"/>
<circle cx="859.6" cy="155.5" r="0.35" fill="#d4e2ff" fill-opacity="0.21"/>
<circle cx="903.3" cy="128.0" r="0.5" fill="#d4e2ff" fill-opacity="0.31"/>
<circle cx="479.4" cy="130.3" r="0.35" fill="#d4e2ff" fill-opacity="0.15"/>
<circle cx="520.1" cy="98.1" r="0.6" fill="#d4e2ff" fill-opacity="0.43"/>
<circle cx="695.0" cy="374.4" r="0.6" fill="#d4e2ff" fill-opacity="0.21"/>
<circle cx="973.7" cy="44.7" r="0.35" fill="#d4e2ff" fill-opacity="0.23"/>
<circle cx="906.4" cy="165.9" r="0.4" fill="#d4e2ff" fill-opacity="0.48"/>
<circle cx="1037.1" cy="81.3" r="0.55" fill="#d4e2ff" fill-opacity="0.17"/>
<circle cx="813.5" cy="91.4" r="0.35" fill="#d4e2ff" fill-opacity="0.34"/>
<circle cx="615.9" cy="98.9" r="0.45" fill="#d4e2ff" fill-opacity="0.36"/>
<circle cx="700.6" cy="89.1" r="0.5" fill="#d4e2ff" fill-opacity="0.44"/>
<circle cx="635.9" cy="108.1" r="0.55" fill="#d4e2ff" fill-opacity="0.28"/>
<circle cx="848.1" cy="128.8" r="0.35" fill="#d4e2ff" fill-opacity="0.48"/>
<circle cx="279.2" cy="30.0" r="0.4" fill="#d4e2ff" fill-opacity="0.22"/>
<circle cx="906.0" cy="230.4" r="0.35" fill="#d4e2ff" fill-opacity="0.21"/>
<circle cx="610.2" cy="75.3" r="0.55" fill="#d4e2ff" fill-opacity="0.20"/>
<circle cx="358.4" cy="31.1" r="0.35" fill="#d4e2ff" fill-opacity="0.20"/>
<circle cx="691.0" cy="376.7" r="0.4" fill="#d4e2ff" fill-opacity="0.20"/>
<circle cx="715.5" cy="142.1" r="0.4" fill="#d4e2ff" fill-opacity="0.30"/>
<circle cx="351.0" cy="128.8" r="0.6" fill="#d4e2ff" fill-opacity="0.45"/>
<circle cx="522.2" cy="137.7" r="0.4" fill="#d4e2ff" fill-opacity="0.29"/>
<circle cx="782.7" cy="171.5" r="0.5" fill="#d4e2ff" fill-opacity="0.15"/>
<circle cx="1018.9" cy="303.9" r="0.6" fill="#d4e2ff" fill-opacity="0.36"/>
<circle cx="832.4" cy="238.4" r="0.5" fill="#d4e2ff" fill-opacity="0.39"/>
<circle cx="724.0" cy="288.9" r="0.45" fill="#d4e2ff" fill-opacity="0.18"/>
<circle cx="899.7" cy="92.2" r="0.5" fill="#d4e2ff" fill-opacity="0.39"/>
<circle cx="777.8" cy="210.8" r="0.4" fill="#d4e2ff" fill-opacity="0.35"/>
<circle cx="792.7" cy="70.7" r="0.5" fill="#d4e2ff" fill-opacity="0.16"/>
<circle cx="366.0" cy="135.1" r="0.5" fill="#d4e2ff" fill-opacity="0.43"/>
<circle cx="712.4" cy="30.7" r="0.9" fill="#d4e2ff" fill-opacity="0.77"/>
<circle cx="884.4" cy="145.0" r="0.45" fill="#d4e2ff" fill-opacity="0.35"/>
<circle cx="306.7" cy="513.8" r="0.6" fill="#d4e2ff" fill-opacity="0.28"/>
<circle cx="915.7" cy="479.0" r="0.6" fill="#d4e2ff" fill-opacity="0.45"/>
<circle cx="664.3" cy="271.3" r="0.5" fill="#d4e2ff" fill-opacity="0.36"/>
<circle cx="707.2" cy="309.8" r="0.55" fill="#d4e2ff" fill-opacity="0.28"/>
<circle cx="463.7" cy="50.3" r="0.55" fill="#d4e2ff" fill-opacity="0.42"/>
<circle cx="766.6" cy="506.7" r="0.45" fill="#d4e2ff" fill-opacity="0.50"/>
<circle cx="972.0" cy="89.4" r="0.6" fill="#d4e2ff" fill-opacity="0.33"/>
<circle cx="774.3" cy="407.9" r="0.45" fill="#d4e2ff" fill-opacity="0.21"/>
<circle cx="481.2" cy="77.7" r="0.35" fill="#d4e2ff" fill-opacity="0.31"/>
<circle cx="509.1" cy="107.9" r="0.4" fill="#d4e2ff" fill-opacity="0.31"/>
<circle cx="901.4" cy="298.6" r="0.6" fill="#d4e2ff" fill-opacity="0.30"/>
<circle cx="669.3" cy="85.3" r="0.6" fill="#d4e2ff" fill-opacity="0.40"/>
<circle cx="864.5" cy="14.6" r="0.5" fill="#d4e2ff" fill-opacity="0.29"/>
<circle cx="563.2" cy="10.8" r="0.45" fill="#d4e2ff" fill-opacity="0.36"/>
<circle cx="657.9" cy="428.3" r="0.45" fill="#d4e2ff" fill-opacity="0.42"/>
<circle cx="875.2" cy="342.4" r="0.45" fill="#d4e2ff" fill-opacity="0.23"/>
<circle cx="1014.4" cy="205.6" r="0.4" fill="#d4e2ff" fill-opacity="0.14"/>
<circle cx="158.6" cy="124.3" r="0.45" fill="#d4e2ff" fill-opacity="0.17"/>
<circle cx="979.5" cy="58.4" r="0.55" fill="#d4e2ff" fill-opacity="0.47"/>
<circle cx="422.2" cy="138.1" r="0.35" fill="#d4e2ff" fill-opacity="0.50"/>
<circle cx="735.2" cy="18.3" r="0.55" fill="#d4e2ff" fill-opacity="0.13"/>
<circle cx="552.3" cy="80.4" r="0.55" fill="#d4e2ff" fill-opacity="0.32"/>
<circle cx="743.4" cy="85.4" r="0.55" fill="#d4e2ff" fill-opacity="0.42"/>
<circle cx="700.6" cy="53.2" r="0.6" fill="#d4e2ff" fill-opacity="0.23"/>
<circle cx="753.2" cy="522.3" r="0.4" fill="#d4e2ff" fill-opacity="0.43"/>
<circle cx="905.4" cy="141.9" r="0.4" fill="#d4e2ff" fill-opacity="0.30"/>
<circle cx="923.2" cy="241.7" r="0.5" fill="#d4e2ff" fill-opacity="0.43"/>
<circle cx="804.3" cy="126.5" r="0.55" fill="#d4e2ff" fill-opacity="0.49"/>
<circle cx="532.6" cy="146.0" r="0.55" fill="#d4e2ff" fill-opacity="0.31"/>
<circle cx="624.0" cy="97.1" r="0.45" fill="#d4e2ff" fill-opacity="0.20"/>
<circle cx="723.5" cy="196.4" r="0.45" fill="#d4e2ff" fill-opacity="0.23"/>
<circle cx="766.0" cy="319.7" r="0.4" fill="#d4e2ff" fill-opacity="0.33"/>
<circle cx="972.1" cy="139.0" r="0.4" fill="#d4e2ff" fill-opacity="0.18"/>
<circle cx="860.6" cy="68.0" r="0.55" fill="#d4e2ff" fill-opacity="0.34"/>
<circle cx="553.1" cy="510.5" r="0.4" fill="#d4e2ff" fill-opacity="0.19"/>
<circle cx="807.9" cy="104.2" r="0.4" fill="#d4e2ff" fill-opacity="0.37"/>
<circle cx="724.3" cy="121.3" r="0.6" fill="#d4e2ff" fill-opacity="0.44"/>
<circle cx="963.2" cy="69.2" r="0.5" fill="#d4e2ff" fill-opacity="0.17"/>
<circle cx="864.9" cy="61.5" r="0.35" fill="#d4e2ff" fill-opacity="0.20"/>
<circle cx="711.8" cy="142.1" r="0.5" fill="#d4e2ff" fill-opacity="0.15"/>
<circle cx="712.3" cy="70.1" r="0.5" fill="#d4e2ff" fill-opacity="0.37"/>
<circle cx="574.4" cy="150.3" r="0.6" fill="#d4e2ff" fill-opacity="0.29"/>
<circle cx="766.0" cy="248.0" r="0.45" fill="#d4e2ff" fill-opacity="0.40"/>
<circle cx="749.0" cy="148.7" r="0.45" fill="#d4e2ff" fill-opacity="0.28"/>
<circle cx="777.2" cy="401.7" r="0.35" fill="#d4e2ff" fill-opacity="0.26"/>
<circle cx="339.2" cy="530.9" r="0.4" fill="#d4e2ff" fill-opacity="0.25"/>
<circle cx="728.6" cy="133.7" r="0.4" fill="#d4e2ff" fill-opacity="0.46"/>
<circle cx="642.9" cy="139.1" r="0.5" fill="#d4e2ff" fill-opacity="0.19"/>
<circle cx="794.6" cy="62.2" r="0.4" fill="#d4e2ff" fill-opacity="0.38"/>
<circle cx="659.9" cy="160.1" r="0.4" fill="#d4e2ff" fill-opacity="0.21"/>
<circle cx="517.5" cy="537.9" r="0.5" fill="#d4e2ff" fill-opacity="0.30"/>
<circle cx="507.1" cy="521.2" r="0.35" fill="#d4e2ff" fill-opacity="0.49"/>
<circle cx="492.0" cy="500.9" r="0.45" fill="#d4e2ff" fill-opacity="0.49"/>
<circle cx="664.0" cy="307.0" r="0.35" fill="#d4e2ff" fill-opacity="0.35"/>
<circle cx="693.0" cy="75.0" r="0.35" fill="#d4e2ff" fill-opacity="0.25"/>
<circle cx="718.0" cy="243.3" r="0.4" fill="#d4e2ff" fill-opacity="0.19"/>
<circle cx="864.9" cy="295.2" r="0.4" fill="#d4e2ff" fill-opacity="0.38"/>
<circle cx="696.1" cy="74.2" r="0.4" fill="#d4e2ff" fill-opacity="0.37"/>
<circle cx="773.9" cy="399.3" r="0.45" fill="#d4e2ff" fill-opacity="0.24"/>
<circle cx="842.3" cy="311.5" r="0.5" fill="#d4e2ff" fill-opacity="0.40"/>
<circle cx="553.1" cy="80.4" r="0.35" fill="#d4e2ff" fill-opacity="0.19"/>
<circle cx="875.5" cy="399.0" r="0.35" fill="#d4e2ff" fill-opacity="0.48"/>
<circle cx="854.0" cy="251.5" r="0.5" fill="#d4e2ff" fill-opacity="0.13"/>
<circle cx="790.8" cy="358.6" r="0.55" fill="#d4e2ff" fill-opacity="0.41"/>
<circle cx="756.7" cy="92.6" r="0.35" fill="#d4e2ff" fill-opacity="0.42"/>
<circle cx="1029.0" cy="103.1" r="0.5" fill="#d4e2ff" fill-opacity="0.19"/>
<circle cx="468.7" cy="151.3" r="0.6" fill="#d4e2ff" fill-opacity="0.34"/>
<circle cx="700.1" cy="202.5" r="0.35" fill="#d4e2ff" fill-opacity="0.49"/>
<circle cx="969.4" cy="107.6" r="0.45" fill="#d4e2ff" fill-opacity="0.22"/>
<circle cx="528.5" cy="136.5" r="0.5" fill="#d4e2ff" fill-opacity="0.20"/>
<circle cx="703.5" cy="290.8" r="0.5" fill="#d4e2ff" fill-opacity="0.15"/>
<circle cx="897.3" cy="259.4" r="0.5" fill="#d4e2ff" fill-opacity="0.46"/>
<circle cx="549.3" cy="64.5" r="0.9" fill="#d4e2ff" fill-opacity="0.72"/>
<circle cx="769.7" cy="396.9" r="0.9" fill="#d4e2ff" fill-opacity="0.60"/>
<circle cx="561.4" cy="126.2" r="0.35" fill="#d4e2ff" fill-opacity="0.37"/>
<circle cx="73.6" cy="510.3" r="0.6" fill="#d4e2ff" fill-opacity="0.47"/>
<circle cx="769.0" cy="206.4" r="0.55" fill="#d4e2ff" fill-opacity="0.23"/>
<circle cx="823.8" cy="150.5" r="0.55" fill="#d4e2ff" fill-opacity="0.19"/>
<circle cx="132.6" cy="9.1" r="0.55" fill="#d4e2ff" fill-opacity="0.29"/>
<circle cx="773.1" cy="10.5" r="0.4" fill="#d4e2ff" fill-opacity="0.42"/>
<circle cx="329.7" cy="31.8" r="0.5" fill="#d4e2ff" fill-opacity="0.14"/>
<circle cx="535.4" cy="124.7" r="0.55" fill="#d4e2ff" fill-opacity="0.44"/>
<circle cx="646.2" cy="131.4" r="0.5" fill="#d4e2ff" fill-opacity="0.22"/>
<circle cx="770.7" cy="52.3" r="0.35" fill="#d4e2ff" fill-opacity="0.19"/>
<circle cx="740.0" cy="106.7" r="0.55" fill="#d4e2ff" fill-opacity="0.40"/>
<circle cx="273.2" cy="13.2" r="0.6" fill="#d4e2ff" fill-opacity="0.28"/>
<circle cx="524.0" cy="79.8" r="0.55" fill="#d4e2ff" fill-opacity="0.30"/>
<circle cx="468.4" cy="105.6" r="0.6" fill="#d4e2ff" fill-opacity="0.24"/>
<circle cx="400.8" cy="55.7" r="0.6" fill="#d4e2ff" fill-opacity="0.40"/>
<circle cx="731.7" cy="384.9" r="0.4" fill="#d4e2ff" fill-opacity="0.31"/>
<circle cx="856.6" cy="344.3" r="0.35" fill="#d4e2ff" fill-opacity="0.19"/>
<circle cx="488.8" cy="9.7" r="0.5" fill="#d4e2ff" fill-opacity="0.31"/>
<circle cx="250.5" cy="75.4" r="0.5" fill="#d4e2ff" fill-opacity="0.21"/>
<circle cx="697.2" cy="275.4" r="0.55" fill="#d4e2ff" fill-opacity="0.42"/>
<circle cx="239.2" cy="537.8" r="0.35" fill="#d4e2ff" fill-opacity="0.44"/>
<circle cx="403.5" cy="53.8" r="0.45" fill="#d4e2ff" fill-opacity="0.12"/>
<circle cx="864.4" cy="326.0" r="0.55" fill="#d4e2ff" fill-opacity="0.30"/>
<circle cx="721.9" cy="1.5" r="0.4" fill="#d4e2ff" fill-opacity="0.25"/>
<circle cx="651.6" cy="28.6" r="0.4" fill="#d4e2ff" fill-opacity="0.47"/>
<circle cx="836.0" cy="509.8" r="0.45" fill="#d4e2ff" fill-opacity="0.42"/>
<circle cx="806.8" cy="177.9" r="0.5" fill="#d4e2ff" fill-opacity="0.17"/>
<circle cx="756.8" cy="316.3" r="0.5" fill="#d4e2ff" fill-opacity="0.31"/>
<circle cx="827.6" cy="167.0" r="0.45" fill="#d4e2ff" fill-opacity="0.47"/>
<circle cx="918.7" cy="477.8" r="0.5" fill="#d4e2ff" fill-opacity="0.23"/>
<circle cx="689.6" cy="261.9" r="0.35" fill="#d4e2ff" fill-opacity="0.48"/>
<circle cx="276.9" cy="141.0" r="0.55" fill="#d4e2ff" fill-opacity="0.39"/>
<circle cx="552.0" cy="104.0" r="0.5" fill="#d4e2ff" fill-opacity="0.44"/>
<circle cx="670.9" cy="94.4" r="0.55" fill="#d4e2ff" fill-opacity="0.45"/>
<circle cx="394.8" cy="58.6" r="0.55" fill="#d4e2ff" fill-opacity="0.16"/>
<circle cx="547.8" cy="539.8" r="0.5" fill="#d4e2ff" fill-opacity="0.24"/>
<circle cx="575.5" cy="23.2" r="0.6" fill="#d4e2ff" fill-opacity="0.20"/>
<circle cx="807.0" cy="197.0" r="0.45" fill="#d4e2ff" fill-opacity="0.37"/>
<circle cx="251.6" cy="101.3" r="0.5" fill="#d4e2ff" fill-opacity="0.48"/>
<circle cx="876.7" cy="415.6" r="0.45" fill="#d4e2ff" fill-opacity="0.49"/>
<circle cx="10.8" cy="478.1" r="0.55" fill="#d4e2ff" fill-opacity="0.38"/>
<circle cx="699.3" cy="271.3" r="0.6" fill="#d4e2ff" fill-opacity="0.33"/>
<circle cx="791.4" cy="364.5" r="0.55" fill="#d4e2ff" fill-opacity="0.31"/>
<circle cx="636.1" cy="525.1" r="0.55" fill="#d4e2ff" fill-opacity="0.28"/>
<circle cx="861.3" cy="143.3" r="0.6" fill="#d4e2ff" fill-opacity="0.44"/>
<circle cx="718.5" cy="104.8" r="0.5" fill="#d4e2ff" fill-opacity="0.32"/>
<circle cx="558.2" cy="81.0" r="0.45" fill="#d4e2ff" fill-opacity="0.20"/>
<circle cx="507.9" cy="508.0" r="0.5" fill="#d4e2ff" fill-opacity="0.20"/>
<circle cx="364.0" cy="81.5" r="0.55" fill="#d4e2ff" fill-opacity="0.39"/>
<circle cx="739.4" cy="223.8" r="0.35" fill="#d4e2ff" fill-opacity="0.23"/>
<circle cx="870.0" cy="252.3" r="0.45" fill="#d4e2ff" fill-opacity="0.23"/>
<circle cx="27.2" cy="266.6" r="0.45" fill="#d4e2ff" fill-opacity="0.38"/>
<circle cx="785.7" cy="330.2" r="0.5" fill="#d4e2ff" fill-opacity="0.29"/>
<circle cx="879.9" cy="150.0" r="0.55" fill="#d4e2ff" fill-opacity="0.22"/>
<circle cx="718.0" cy="317.7" r="0.5" fill="#d4e2ff" fill-opacity="0.26"/>
<circle cx="942.7" cy="220.8" r="0.5" fill="#d4e2ff" fill-opacity="0.19"/>
<circle cx="543.9" cy="507.5" r="0.35" fill="#d4e2ff" fill-opacity="0.21"/>
<circle cx="1068.0" cy="117.3" r="0.45" fill="#d4e2ff" fill-opacity="0.21"/>
<circle cx="708.8" cy="477.2" r="0.5" fill="#d4e2ff" fill-opacity="0.23"/>
<circle cx="817.4" cy="312.1" r="0.5" fill="#d4e2ff" fill-opacity="0.36"/>
<circle cx="558.7" cy="80.3" r="0.45" fill="#d4e2ff" fill-opacity="0.49"/>
<circle cx="396.4" cy="130.4" r="0.35" fill="#d4e2ff" fill-opacity="0.48"/>
<circle cx="903.4" cy="131.4" r="0.6" fill="#d4e2ff" fill-opacity="0.45"/>
<circle cx="479.9" cy="63.6" r="0.45" fill="#d4e2ff" fill-opacity="0.16"/>
<circle cx="1007.2" cy="336.0" r="0.55" fill="#d4e2ff" fill-opacity="0.12"/>
<circle cx="1044.2" cy="396.0" r="0.55" fill="#d4e2ff" fill-opacity="0.13"/>
<circle cx="645.0" cy="74.9" r="0.6" fill="#d4e2ff" fill-opacity="0.41"/>
<circle cx="727.6" cy="407.4" r="0.45" fill="#d4e2ff" fill-opacity="0.15"/>
<circle cx="618.5" cy="12.5" r="0.55" fill="#d4e2ff" fill-opacity="0.15"/>
<circle cx="967.3" cy="301.3" r="0.45" fill="#d4e2ff" fill-opacity="0.32"/>
<circle cx="965.5" cy="255.2" r="0.35" fill="#d4e2ff" fill-opacity="0.13"/>
<circle cx="844.5" cy="70.2" r="0.6" fill="#d4e2ff" fill-opacity="0.49"/>
<circle cx="700.7" cy="295.7" r="0.4" fill="#d4e2ff" fill-opacity="0.17"/>
<circle cx="434.7" cy="69.2" r="0.55" fill="#d4e2ff" fill-opacity="0.24"/>
<circle cx="933.2" cy="10.3" r="0.4" fill="#d4e2ff" fill-opacity="0.39"/>
<circle cx="748.6" cy="202.5" r="0.4" fill="#d4e2ff" fill-opacity="0.47"/>
<circle cx="704.8" cy="23.8" r="0.6" fill="#d4e2ff" fill-opacity="0.32"/>
<circle cx="820.9" cy="302.6" r="0.45" fill="#d4e2ff" fill-opacity="0.17"/>
<circle cx="709.4" cy="234.7" r="0.55" fill="#d4e2ff" fill-opacity="0.23"/>
<circle cx="895.9" cy="0.6" r="0.4" fill="#d4e2ff" fill-opacity="0.12"/>
<circle cx="832.0" cy="85.2" r="0.6" fill="#d4e2ff" fill-opacity="0.34"/>
<circle cx="714.0" cy="180.6" r="0.6" fill="#d4e2ff" fill-opacity="0.46"/>
<circle cx="1073.7" cy="353.5" r="0.35" fill="#d4e2ff" fill-opacity="0.30"/>
<circle cx="699.4" cy="242.4" r="0.55" fill="#d4e2ff" fill-opacity="0.47"/>
<circle cx="719.5" cy="113.7" r="0.9" fill="#d4e2ff" fill-opacity="0.60"/>
<circle cx="744.3" cy="389.3" r="0.5" fill="#d4e2ff" fill-opacity="0.45"/>
<circle cx="687.2" cy="276.3" r="0.6" fill="#d4e2ff" fill-opacity="0.43"/>
<circle cx="1063.4" cy="60.6" r="0.45" fill="#d4e2ff" fill-opacity="0.47"/>
<circle cx="498.7" cy="535.7" r="0.4" fill="#d4e2ff" fill-opacity="0.48"/>
<circle cx="1033.5" cy="138.1" r="0.55" fill="#d4e2ff" fill-opacity="0.22"/>
<circle cx="628.3" cy="129.0" r="0.6" fill="#d4e2ff" fill-opacity="0.29"/>
<circle cx="485.3" cy="128.7" r="0.6" fill="#d4e2ff" fill-opacity="0.32"/>
<circle cx="1059.1" cy="114.1" r="0.6" fill="#d4e2ff" fill-opacity="0.21"/>
<circle cx="508.7" cy="85.8" r="0.5" fill="#d4e2ff" fill-opacity="0.19"/>
<circle cx="723.4" cy="201.8" r="0.55" fill="#d4e2ff" fill-opacity="0.38"/>
<ellipse cx="505" cy="518" rx="3.5" ry="2.2" fill="#9fb4e6" fill-opacity="0.3" transform="rotate(20 505 518)"/>
<ellipse cx="517" cy="525" rx="4" ry="2.5" fill="#9fb4e6" fill-opacity="0.3" transform="rotate(20 517 525)"/>
<ellipse cx="543" cy="542" rx="6" ry="3" fill="#c0a8c8" fill-opacity="0.3" transform="rotate(20 543 542)"/>
<ellipse cx="571" cy="558" rx="4" ry="2.5" fill="#8fd0d0" fill-opacity="0.3" transform="rotate(20 571 558)"/>
<ellipse cx="582" cy="565" rx="6" ry="3.2" fill="#8fd0d0" fill-opacity="0.3" transform="rotate(20 582 565)"/>
<ellipse cx="628" cy="533" rx="2" ry="1.5" fill="#9fb4e6" fill-opacity="0.3" transform="rotate(20 628 533)"/>
<ellipse cx="545" cy="503" rx="2" ry="2" fill="#9fb4e6" fill-opacity="0.3" transform="rotate(20 545 503)"/>
 </g>
 <g id="flares">
  <circle cx="667" cy="439" r="16" fill="url(#gFlare)"/>
  <path d="M642,423 L692,455 M647,465 L690,410" stroke="#b6c6f2" stroke-opacity="0.3" stroke-width="1.6" fill="none" filter="url(#fSoft)"/>
  <path d="M700,372 L748,424 M698,420 L752,378" stroke="#b6c6f2" stroke-opacity="0.15" stroke-width="1.6" fill="none" filter="url(#fSoft)"/>
  <circle cx="724" cy="398" r="10" fill="url(#gFlare)" opacity="0.7"/>
  <circle cx="1041" cy="182" r="7" fill="url(#gFlare)" opacity="0.7"/>
  <path d="M1033,182 H1049 M1041,174 V190" stroke="#b6c6f2" stroke-opacity="0.22" stroke-width="1"/>
 </g>
</svg>

<!-- ============ FOREGROUND ============ -->
<svg width="1080" height="589" viewBox="0 0 1080 589">
 <!-- php watermark -->
 <ellipse cx="15.5" cy="9.8" rx="14.6" ry="8.8" fill="#e2302a"/>
 <text class="lat" x="4.4" y="11.4" font-size="12.5" font-style="italic" fill="#fff" textLength="21.5" lengthAdjust="spacingAndGlyphs">php</text>
 <text class="cjk" font-weight="500" x="31.6" y="14.6" font-size="15" font-style="italic" fill="#0a0a0a" textLength="48.5" lengthAdjust="spacingAndGlyphs">中文网</text>

 <!-- page title -->
 <polygon points="28.1,25.4 54.7,25.4 40.4,62.8 13.1,62.8" fill="#4eaaea"/>
 <text class="cjk" font-weight="900" x="55" y="60" font-size="34.5" fill="#fff" textLength="138" lengthAdjust="spacingAndGlyphs">规模定律</text>
 <text class="lat b" x="205" y="59.4" font-size="37" fill="#fff" textLength="201" lengthAdjust="spacingAndGlyphs">Scaling Law</text>

 <!-- white panel -->
 <rect x="42" y="154" width="612" height="341" fill="#fff"/>

 <!-- chart title -->
 <g fill="#2f70bf">
  <text class="lat b" x="264.5" y="182.8" font-size="21.6" textLength="35.5" lengthAdjust="spacingAndGlyphs">O1(</text>
  <text class="cjk" font-weight="900" x="301.5" y="183.5" font-size="20.5">推理模型）</text>
  <text class="cjk" font-weight="900" x="405.5" y="183.5" font-size="20.5">重新定义</text>
  <text class="lat b" x="489" y="182.8" font-size="21.6" textLength="121.5" lengthAdjust="spacingAndGlyphs">Scaling Law</text>
 </g>

 <!-- axis labels -->
 <text class="lat b" x="98.3" y="201.8" font-size="15.5" fill="#141414" textLength="105" lengthAdjust="spacingAndGlyphs">Performance</text>
 <text class="lat" x="49" y="294.5" font-size="15.5" fill="#3a56a2" textLength="94.2" lengthAdjust="spacingAndGlyphs">We are here</text>
 <text class="lat b" x="590" y="467.5" font-size="14.5" fill="#141414" textLength="43.5" lengthAdjust="spacingAndGlyphs">GPUs</text>

 <!-- axes -->
 <line x1="152" y1="217.5" x2="152" y2="463.5" stroke="#1b1b1b" stroke-width="7" stroke-linecap="round"/>
 <line x1="152" y1="462" x2="571" y2="462" stroke="#1b1b1b" stroke-width="6.4" stroke-linecap="round"/>

 <!-- red post-train line -->
 <line x1="152" y1="461" x2="532.5" y2="219.4" stroke="#d8443b" stroke-width="2.4"/>

 <!-- black pre-train curve -->
 <path fill="none" stroke="#141414" stroke-width="3.5" stroke-linejoin="round" stroke-linecap="round" d="M152.5,460.5 C153.1,460.1 152.6,459.6 155.8,457.9 C159.0,456.1 167.8,452.0 171.6,450 C175.4,448.0 175.3,448.3 178.9,445.7 C182.5,443.1 188.5,437.4 193.3,434.1 C198.1,430.9 203.4,428.4 207.7,426.2 C212.0,424.0 215.5,423.5 219.3,421.1 C223.2,418.7 226.7,414.6 230.8,411.7 C234.9,408.8 239.5,406.9 243.8,403.8 C248.1,400.7 252.7,396.1 256.8,393 C260.9,389.9 265.0,387.1 268.3,385 C271.6,382.9 274.1,382.0 276.8,380.6 C279.5,379.2 280.9,379.0 284.3,376.8 C287.7,374.6 292.0,371.2 297.3,367.5 C302.6,363.8 311.6,356.9 316,354.4 C320.4,351.9 319.8,354.8 323.5,352.5 C327.2,350.2 333.4,344.0 338.4,340.4 C343.4,336.8 347.8,334.2 353.4,331.1 C359.0,328.0 365.8,324.5 372,321.7 C378.2,318.9 384.5,316.3 390.7,314.3 C396.9,312.3 404.3,311.0 409.4,309.6 C414.4,308.2 416.4,307.6 421,306.2 C425.6,304.8 431.8,302.8 436.8,301.5 C441.8,300.2 446.2,299.6 450.9,298.4 C455.6,297.2 459.9,295.5 465.1,294.1 C470.4,292.7 476.4,291.0 482.4,289.9 C488.4,288.8 496.3,288.3 501.3,287.5 C506.3,286.7 507.8,286.2 512.3,285.1 C516.8,284.1 522.8,282.2 528,281.2 C533.2,280.2 537.9,279.7 543.8,279.2 C549.7,278.7 560.2,278.5 563.5,278.4"/>

 <path d="M540,279.6 C548,278.8 556,278.3 563.5,278.4" fill="none" stroke="#141414" stroke-width="4.4" stroke-linecap="round"/>
 <!-- blue dashed "we are here" -->
 <line x1="148" y1="290" x2="483" y2="290" stroke="#1d389c" stroke-width="2.2" stroke-dasharray="8 3"/>

 <!-- power usage arrow -->
 <line x1="372.5" y1="446.6" x2="536" y2="446.6" stroke="#2e6a9c" stroke-width="3"/>
 <polygon points="535,442.2 548.5,446.6 535,451.1" fill="#2e6a9c"/>

 <!-- gray verticals -->
 <line x1="420.7" y1="290" x2="420.7" y2="463" stroke="#7b7b7b" stroke-width="1.3" stroke-dasharray="7 2.3"/>
 <line x1="482.3" y1="290" x2="482.3" y2="463" stroke="#7b7b7b" stroke-width="1.3" stroke-dasharray="7 2.3"/>

 <!-- chart annotations -->
 <g fill="#333333">
  <text class="lat b" x="384.2" y="229" font-size="18.5" textLength="90" lengthAdjust="spacingAndGlyphs">Post-train</text>
  <text class="cjk b" x="475" y="229" font-size="18.5">：</text>
  <text class="lat b" x="384" y="251.5" font-size="18.5" textLength="56" lengthAdjust="spacingAndGlyphs">O1/R1</text>
  <text class="lat b" x="511" y="266" font-size="18.5" textLength="82" lengthAdjust="spacingAndGlyphs">Pre-train</text>
 </g>
 <g fill="#2e6a9c">
  <text class="b" font-family="DejaVu Sans, sans-serif" x="240.6" y="450.1" font-size="10.4" textLength="102.3" lengthAdjust="spacingAndGlyphs">Power Usage</text>
  <text class="b" font-family="DejaVu Sans, sans-serif" x="337.2" y="485.6" font-size="10.4" textLength="96.5" lengthAdjust="spacingAndGlyphs">Fewer GPUs</text>
  <text class="b" font-family="DejaVu Sans, sans-serif" x="463.3" y="485.6" font-size="10.4" textLength="88.2" lengthAdjust="spacingAndGlyphs">More GPUs</text>
 </g>

 <!-- right column -->
 <g fill="#ffffff" font-family="DejaVu Sans, sans-serif">
  <text class="b" x="677.8" y="200" font-size="23.5" textLength="156.5" lengthAdjust="spacingAndGlyphs">Scaling Laws?</text>

  <text x="675.6" y="234.7" font-size="22">•</text>
  <text class="b" x="694.3" y="232.4" font-size="20.6" textLength="181.5" lengthAdjust="spacingAndGlyphs">Pre-Train Scaling:</text>
  <text x="884" y="232.4" font-size="20.6" textLength="116" lengthAdjust="spacingAndGlyphs">knowledge-</text>
  <text x="696" y="256.5" font-size="20.6" textLength="266" lengthAdjust="spacingAndGlyphs">detect all possible patterns</text>

  <text x="693.2" y="289.4" font-size="25" font-family="DejaVu Sans">✓</text>
  <text x="719.5" y="289.6" font-size="21" textLength="115.8" lengthAdjust="spacingAndGlyphs">Multimodal</text>

  <text x="675.6" y="323.4" font-size="22">•</text>
  <text class="b" x="694.3" y="321.1" font-size="20.6" textLength="181.5" lengthAdjust="spacingAndGlyphs">Post-train Scaling</text>
  <text class="b cjk" x="876" y="321.1" font-size="20.6">：</text>
  <text x="900.5" y="321.1" font-size="20.6" textLength="104" lengthAdjust="spacingAndGlyphs">Refine and</text>
  <text x="695" y="345.2" font-size="20.6" textLength="99.5" lengthAdjust="spacingAndGlyphs">alignment</text>

  <text x="675.6" y="379.8" font-size="22">•</text>
  <text class="b" x="694.3" y="377.5" font-size="20.6" textLength="189" lengthAdjust="spacingAndGlyphs">Reasoning Scaling</text>
  <text class="cjk" x="885.5" y="377.5" font-size="20.6">：</text>
  <text x="913" y="377.5" font-size="20.6" textLength="121" lengthAdjust="spacingAndGlyphs">Scaling Test-</text>
  <text x="697" y="403" font-size="20.6" textLength="297.5" lengthAdjust="spacingAndGlyphs">Time Compute -Thinking skills</text>

  <text x="675.6" y="436.8" font-size="22">•</text>
  <text class="b" x="694.3" y="434.5" font-size="20.6" textLength="207.5" lengthAdjust="spacingAndGlyphs">Memory &amp; Context:</text>
  <text x="911" y="434.5" font-size="20.6" textLength="94.8" lengthAdjust="spacingAndGlyphs">know you</text>
  <text x="695" y="460" font-size="20.6" textLength="108.5" lengthAdjust="spacingAndGlyphs">better ever</text>
 </g>

 <!-- top-right AIR logo -->
 <g id="seal" fill="none" stroke="#fff">
  <circle cx="930.7" cy="30.2" r="19.5" stroke-width="1.1"/>
  <circle cx="930.7" cy="30.2" r="17.9" stroke-width="0.6" stroke-opacity="0.8"/>
  <circle cx="930.7" cy="30.2" r="15.6" stroke-width="2.6" stroke-dasharray="0.9 1.6" stroke-opacity="0.55"/>
  <circle cx="930.7" cy="30.2" r="13.2" stroke-width="0.9"/>
  <circle cx="930.7" cy="30.2" r="12.2" stroke-width="0.5" stroke-opacity="0.7"/>
  <circle cx="930.7" cy="30.2" r="9.2" stroke-width="3.4" stroke-dasharray="2.2 1.4" stroke-opacity="0.45"/>
  <circle cx="930.7" cy="30.2" r="6" stroke-width="0.8"/>
  <polygon points="930.7,26.2 931.8,29.2 935,29.2 932.4,31.1 933.4,34.1 930.7,32.3 928,34.1 929,31.1 926.4,29.2 929.6,29.2" fill="#fff" stroke="none"/>
 </g>
 <g fill="#fff">
  <!-- A -->
  <path d="M955.5,44.6 L968.5,16.1 H975.2 L987,44.6 H978 L971.3,29.3 L964.6,44.6 Z"/>
  <!-- i -->
  <rect x="989" y="16.1" width="8.2" height="6.5"/>
  <rect x="989" y="26.9" width="8.2" height="17.7"/>
  <!-- R -->
  <path d="M998.4,16.1 H1024 Q1030.3,16.1 1030.3,22.4 V27.6 Q1030.3,33.8 1024,33.8 H1019.3 L1029.9,44.6 H1021.7 L1009.8,26.9 H1024.2 Q1025.8,26.9 1025.8,24.75 Q1025.8,22.6 1024.2,22.6 H998.4 Z"/>
  <path d="M1001.6,29.7 L1014.6,44.6 H1001.6 Z"/>
 </g>
 <text transform="translate(875.5,75.5) scale(0.6,1.05) skewX(-10)" x="0" y="0" font-size="21" letter-spacing="10.6" fill="#fff" font-family="Noto Serif CJK SC, serif" font-weight="700">清華大学</text>
 <text class="cjk" x="949.5" y="73.2" font-size="16.6" fill="#fff" textLength="117.5" lengthAdjust="spacingAndGlyphs">智能产业研究院</text>
 <text x="868.5" y="87.6" font-size="8.9" fill="#e8ecf6" font-family="Liberation Serif, serif" textLength="206.5" lengthAdjust="spacingAndGlyphs">Institute for AI Industry Research,  Tsinghua University</text>

 <!-- bottom-right MEET / QbitAI logo -->
 <g fill="#fff">
  <text class="lat" x="850" y="569.6" font-size="19.5" textLength="63" lengthAdjust="spacingAndGlyphs" stroke="#fff" stroke-width="0.5">MEET</text>
  <text class="lat" x="914" y="567.8" font-size="9.5" textLength="31.6" lengthAdjust="spacingAndGlyphs">2026</text>
  <text class="cjk" x="852" y="580.2" font-size="8" textLength="93.6" lengthAdjust="spacing">智能未来大会</text>
 </g>
 <rect x="955.2" y="555.6" width="1" height="24.4" fill="#c8d0e8" fill-opacity="0.8"/>
 <path d="M984.84,575.37 A11.4,11.4 0 1 1 987.51,570.55" fill="none" stroke="#fff" stroke-width="2"/>
 <line x1="977" y1="567.4" x2="988.9" y2="576.4" stroke="#44b996" stroke-width="2.6"/>
 <text class="cjk" x="993" y="576.2" font-size="23" fill="#fff" font-weight="300" textLength="69.2" lengthAdjust="spacingAndGlyphs">量子位</text>
</svg>
</body></html>
